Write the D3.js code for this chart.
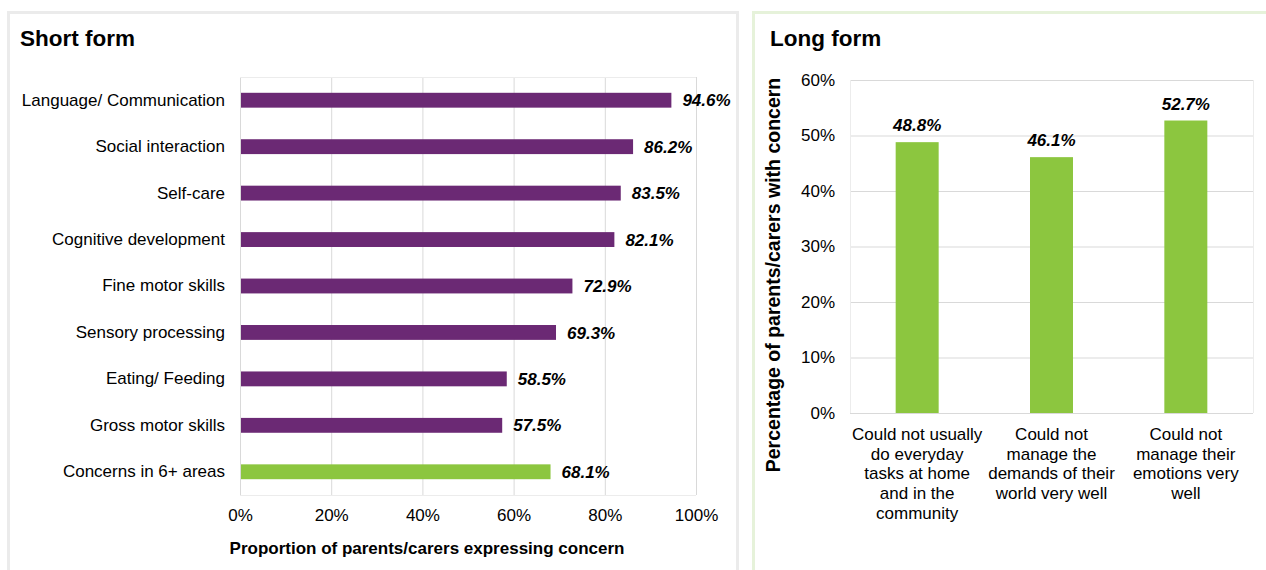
<!DOCTYPE html>
<html>
<head>
<meta charset="utf-8">
<script src="https://cdn.jsdelivr.net/npm/d3@7"></script>
<style>
  body { margin: 0; background: #fff; }
  svg { font-family: "Liberation Sans", Arial, sans-serif; display: block; }
  .tick text { font-size: 17px; fill: #000; }
  .val { font-size: 17px; font-weight: bold; font-style: italic; fill: #000; }
  .ttl { font-size: 22.5px; font-weight: bold; fill: #000; }
  .axt { font-size: 17px; font-weight: bold; fill: #000; }
</style>
</head>
<body>
<div id="chart"></div>
<script>
// short form data
const shortCats = ["Language/ Communication", "Social interaction", "Self-care", "Cognitive development",
  "Fine motor skills", "Sensory processing", "Eating/ Feeding", "Gross motor skills", "Concerns in 6+ areas"];
const shortVals = [94.6, 86.2, 83.5, 82.1, 72.9, 69.3, 58.5, 57.5, 68.1];
const shortTicks = [0, 20, 40, 60, 80, 100];

// long form data
const longCats = [
  ["Could not usually", "do everyday", "tasks at home", "and in the", "community"],
  ["Could not", "manage the", "demands of their", "world very well"],
  ["Could not", "manage their", "emotions very", "well"]
];
const longVals = [48.8, 46.1, 52.7];
const longTicks = [0, 10, 20, 30, 40, 50, 60];

const PURPLE = "#6b2974";
const GREEN = "#8cc63f";
const GRID = "#d9d9d9";

const svg = d3.select("#chart").append("svg").attr("width", 1266).attr("height", 570);

// panel frames
svg.append("rect").attr("x", 8.5).attr("y", 12.5).attr("width", 729).attr("height", 570)
  .attr("fill", "none").attr("stroke", "#ebebeb").attr("stroke-width", 3);
svg.append("rect").attr("x", 753.5).attr("y", 12.5).attr("width", 530).attr("height", 570)
  .attr("fill", "none").attr("stroke", "#e6f2da").attr("stroke-width", 3);

// ---------- short form ----------
const left = svg.append("g");
left.append("text").attr("class", "ttl").attr("x", 20).attr("y", 46).text("Short form");

const x = d3.scaleLinear().domain([0, 100]).range([240, 696]);
const y = d3.scaleBand().domain(shortCats).range([77, 495]).paddingInner(0.68).paddingOuter(0.34);

// grid
left.append("g").selectAll("line").data(shortTicks).join("line")
  .attr("x1", d => x(d) + 0.5).attr("x2", d => x(d) + 0.5)
  .attr("y1", 77).attr("y2", 495).attr("stroke", GRID);
left.append("line").attr("x1", 240).attr("x2", 696).attr("y1", 77.5).attr("y2", 77.5).attr("stroke", "#ececec");
left.append("line").attr("x1", 240).attr("x2", 696).attr("y1", 495.5).attr("y2", 495.5).attr("stroke", "#ececec");

left.selectAll("rect.bar").data(shortVals).join("rect").attr("class", "bar")
  .attr("x", x(0) + 1).attr("y", (d, i) => y(shortCats[i]))
  .attr("width", d => x(d) - x(0) - 1).attr("height", y.bandwidth())
  .attr("fill", (d, i) => i === shortVals.length - 1 ? GREEN : PURPLE);

left.selectAll("text.val").data(shortVals).join("text").attr("class", "val")
  .attr("x", d => x(d) + 11).attr("y", (d, i) => y(shortCats[i]) + y.bandwidth() / 2)
  .attr("dy", "0.36em").text(d => d.toFixed(1) + "%");

const yAx = left.append("g").attr("transform", "translate(240,0)")
  .call(d3.axisLeft(y).tickSize(0).tickPadding(15));
yAx.select(".domain").remove();

const xAx = left.append("g").attr("transform", "translate(0,495)")
  .call(d3.axisBottom(x).tickValues(shortTicks).tickSize(0).tickPadding(14).tickFormat(d => d + "%"));
xAx.select(".domain").remove();

left.append("text").attr("class", "axt").attr("x", 427).attr("y", 554)
  .attr("text-anchor", "middle").text("Proportion of parents/carers expressing concern");

// ---------- long form ----------
const right = svg.append("g");
right.append("text").attr("class", "ttl").attr("x", 770).attr("y", 46).text("Long form");

const x2 = d3.scaleBand().domain(d3.range(longVals.length)).range([850, 1253]).paddingInner(0.68).paddingOuter(0.34);
const y2 = d3.scaleLinear().domain([0, 60]).range([413, 80]);

right.append("g").selectAll("line").data(longTicks).join("line")
  .attr("x1", 850).attr("x2", 1253)
  .attr("y1", d => y2(d) + 0.5).attr("y2", d => y2(d) + 0.5).attr("stroke", GRID);
right.append("line").attr("x1", 850.5).attr("x2", 850.5).attr("y1", 80).attr("y2", 413).attr("stroke", "#ececec");
right.append("line").attr("x1", 1253.5).attr("x2", 1253.5).attr("y1", 80).attr("y2", 413).attr("stroke", "#ececec");

right.selectAll("rect.bar").data(longVals).join("rect").attr("class", "bar")
  .attr("x", (d, i) => x2(i)).attr("y", d => y2(d))
  .attr("width", x2.bandwidth()).attr("height", d => y2(0) - y2(d))
  .attr("fill", GREEN);

right.selectAll("text.val").data(longVals).join("text").attr("class", "val")
  .attr("x", (d, i) => x2(i) + x2.bandwidth() / 2).attr("y", d => y2(d) - 11)
  .attr("text-anchor", "middle").text(d => d.toFixed(1) + "%");

const y2Ax = right.append("g").attr("transform", "translate(850,0)")
  .call(d3.axisLeft(y2).tickValues(longTicks).tickSize(0).tickPadding(15).tickFormat(d => d + "%"));
y2Ax.select(".domain").remove();

const catG = right.append("g").selectAll("text").data(longCats).join("text")
  .attr("text-anchor", "middle")
  .attr("font-size", 17)
  .attr("x", (d, i) => x2(i) + x2.bandwidth() / 2)
  .attr("y", 440);
catG.selectAll("tspan").data(d => d).join("tspan")
  .attr("x", function () { return d3.select(this.parentNode).attr("x"); })
  .attr("dy", (d, i) => i === 0 ? 0 : 19.7)
  .text(d => d);

right.append("text").attr("class", "axt").style("font-size", "19.5px")
  .attr("transform", "translate(780,275) rotate(-90)")
  .attr("text-anchor", "middle").text("Percentage of parents/carers with concern");
</script>
</body>
</html>
